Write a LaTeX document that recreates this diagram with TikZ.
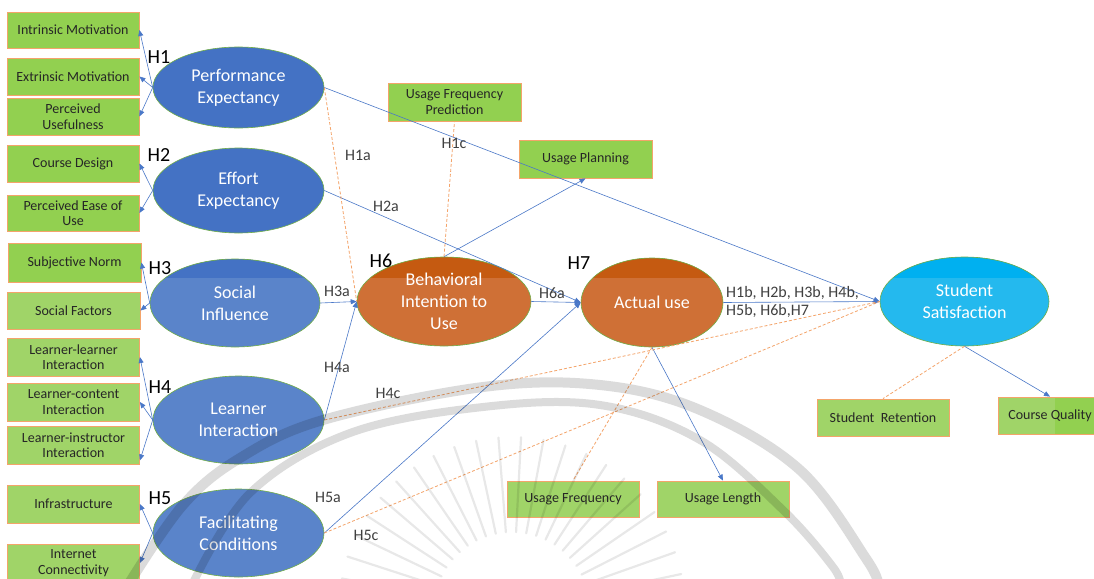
\documentclass[tikz,border=0pt]{standalone}
\usepackage{fontspec}
\setmainfont{Carlito}
\usetikzlibrary{shapes.geometric,arrows.meta}

\definecolor{blueA}{HTML}{4472C4}
\definecolor{blueB}{HTML}{5A84CA}
\definecolor{orangeA}{HTML}{C55A11}
\definecolor{orangeB}{HTML}{CF7036}
\definecolor{cyanA}{HTML}{00B0F0}
\definecolor{cyanB}{HTML}{24B9EE}
\definecolor{ellborder}{HTML}{70AD47}
\definecolor{boxdark}{HTML}{92D050}
\definecolor{boxlight}{HTML}{A0D468}
\definecolor{boxborder}{HTML}{F4A46A}
\definecolor{boxtext}{HTML}{262626}
\definecolor{linkblue}{HTML}{4A78C8}
\definecolor{dashorange}{HTML}{F4A46A}
\definecolor{hyptext}{HTML}{404040}

\begin{document}
\begin{tikzpicture}[x=1pt,y=-1pt,
  latent/.style={ellipse, draw=ellborder, line width=0.6pt, inner sep=0pt,
    text=white, align=center, font=\fontsize{18}{22}\selectfont},
  % darker cap across the top of an ellipse; #1 colour, #2 cap height
  topcap/.style 2 args={path picture={\fill[#1] (path picture bounding box.north west)
    rectangle ([yshift=-#2]path picture bounding box.north east);}},
  ind/.style={rectangle, draw=boxborder, line width=0.8pt, inner sep=0pt,
    text=boxtext, align=center, font=\fontsize{14}{15.5}\selectfont,
    minimum width=132pt, minimum height=37pt},
  link/.style={draw=linkblue, line width=0.6pt, -{Triangle[length=6pt,width=5pt]}},
  dashlink/.style={draw=dashorange, line width=0.8pt, dash pattern=on 3pt off 2pt},
  hyp/.style={text=hyptext, font=\fontsize{16}{18}\selectfont, inner sep=0pt},
  hbig/.style={text=black, font=\fontsize{20}{24}\selectfont, inner sep=0pt},
  wmband/.style={draw=black, draw opacity=0.14, line cap=round},
  wmray/.style={draw=black, draw opacity=0.09, line width=2.2pt, line cap=round}
]
\useasboundingbox (0,0) rectangle (1094,578);
\fill[white] (0,0) rectangle (1094,578);

% indicator boxes, left column
\node[ind, fill=boxdark]  (im)  at (73,30)    [minimum height=36pt] {Intrinsic Motivation};
\node[ind, fill=boxdark]  (em)  at (73,76.5)  {Extrinsic Motivation};
\node[ind, fill=boxdark]  (pu)  at (73,116.5) {Perceived\\Usefulness};
\node[ind, fill=boxdark]  (cd)  at (73,163.5) {Course Design};
\node[ind, fill=boxdark]  (peu) at (73,213)   [minimum height=36pt] {Perceived Ease of\\Use};
\node[ind, fill=boxdark]  (sn)  at (74.5,262.5) [minimum width=133pt, minimum height=39pt] {Subjective Norm};
\node[ind, fill=boxlight] (sf)  at (73.5,310.5) [minimum width=133pt] {Social Factors};
\node[ind, fill=boxlight] (ll)  at (73.5,357) [minimum height=38pt] {Learner-learner\\Interaction};
\node[ind, fill=boxlight] (lc)  at (73.5,402) [minimum height=38pt] {Learner-content\\Interaction};
\node[ind, fill=boxlight] (lin) at (73.5,445) [minimum height=38pt] {Learner-instructor\\Interaction};
\node[ind, fill=boxlight] (inf) at (73.5,504) [minimum height=38pt] {Infrastructure};
\node[ind, fill=boxlight] (ic)  at (73.5,563) [minimum height=38pt] {Internet\\Connectivity};

% outcome boxes
\node[ind, fill=boxdark]  (ufp) at (454.5,102) [minimum width=133pt, minimum height=38pt] {Usage Frequency\\Prediction};
\node[ind, fill=boxdark]  (up)  at (585.5,159) [minimum width=133pt, minimum height=38pt] {Usage Planning};
\node[ind, fill=boxlight] (uf)  at (573,499)   [minimum height=36pt] {Usage Frequency};
\node[ind, fill=boxlight] (ul)  at (723,499)   [minimum height=36pt] {Usage Length};
\node[ind, fill=boxlight] (sr)  at (883,417.5) {Student\ \ Retention};
\node[ind, fill=boxlight, minimum width=104pt,
  path picture={\fill[boxdark] ([xshift=-47pt]path picture bounding box.north east)
    rectangle (path picture bounding box.south east);}]
  (cq) at (1050,415.5) {Course Quality};

% latent constructs
\node[latent, fill=blueA, minimum width=171pt, minimum height=81pt] (pe) at (238.5,87.5) {Performance\\Expectancy};
\node[latent, fill=blueA, minimum width=171pt, minimum height=85pt] (ee) at (238.5,190.5) {Effort\\Expectancy};
\node[latent, fill=blueB, topcap={blueA}{19pt}, minimum width=170pt, minimum height=88pt] (si) at (235,303) {Social\\Influence};
\node[latent, fill=blueB, minimum width=171pt, minimum height=88pt] (li) at (238.5,420) {Learner\\Interaction};
\node[latent, fill=blueB, minimum width=171pt, minimum height=88pt] (fc) at (238.5,533) {Facilitating\\Conditions};
\node[latent, fill=orangeB, topcap={orangeA}{21pt}, minimum width=174pt, minimum height=89pt] (bi) at (444,301.5) {Behavioral\\Intention to\\Use};
\node[latent, fill=orangeB, topcap={orangeA}{20pt}, minimum width=142pt, minimum height=89pt] (au) at (652,302.5) {Actual use};
\node[latent, fill=cyanB, topcap={cyanA}{21pt}, minimum width=169pt, minimum height=89pt] (ss) at (964.5,301.5) {Student\\Satisfaction};

% measurement arrows
\draw[link] (pe.west) -- (im.east);
\draw[link] (pe.west) -- (em.east);
\draw[link] (pe.west) -- (pu.east);
\draw[link] (ee.west) -- (cd.east);
\draw[link] (ee.west) -- (peu.east);
\draw[link] (si.west) -- (sn.east);
\draw[link] (si.west) -- (sf.east);
\draw[link] (li.west) -- (ll.east);
\draw[link] (li.west) -- (lc.east);
\draw[link] (li.west) -- ([yshift=4pt]lin.south east);
\draw[link] (fc.west) -- (inf.east);
\draw[link] (fc.west) -- (ic.east);

% structural paths
\draw[link] (pe.east) -- (ss.west);
\draw[link] (ee.east) -- (au.west);
\draw[link] (si.east) -- (bi.west);
\draw[link] (li.east) -- (bi.west);
\draw[link] (fc.east) -- (au.west);
\draw[link] (bi.north) -- (up.south);
\draw[link] (bi.east) -- (au.west);
\draw[link] (au.east) -- (ss.west);
\draw[link] (au.south) -- (ul.north);
\draw[link] (ss.south) -- (cq.north);

% dashed relations
\draw[dashlink] (pe.east) -- (bi.west);
\draw[dashlink] (bi.north) -- (ufp.south);
\draw[dashlink] (li.east) -- (ss.west);
\draw[dashlink] (fc.east) -- (ss.west);
\draw[dashlink] (au.south) -- (uf.north);
\draw[dashlink] (ss.south) -- (sr.north);

% hypothesis labels
\node[hbig] (h1) at (159,57)  {H1};
\node[hbig] (h2) at (159,155) {H2};
\node[hbig] (h3) at (160,268) {H3};
\node[hbig] (h4) at (160,387) {H4};
\node[hbig] (h5) at (160,498) {H5};
\node[hbig] (h6) at (381,261) {H6};
\node[hbig] (h7) at (579,263) {H7};
\node[hyp] (h1a) at (358,155) {H1a};
\node[hyp] (h1c) at (454,143) {H1c};
\node[hyp] (h2a) at (386,206) {H2a};
\node[hyp] (h3a) at (337,291) {H3a};
\node[hyp] (h4a) at (337,367) {H4a};
\node[hyp] (h4c) at (388,393) {H4c};
\node[hyp] (h6a) at (552,293) {H6a};
\node[hyp] (h5a) at (328,497) {H5a};
\node[hyp] (h5c) at (366,535) {H5c};
\node[hyp, anchor=west, align=left] (h1b) at (726,302) {H1b, H2b, H3b, H4b,\\H5b, H6b,H7};

% faint seal in the background
\draw[wmband, line width=10pt] plot[smooth, tension=0.6] coordinates
  {(128,585) (183,505) (240,458) (323,420) (483,387) (600,385) (700,410) (800,470) (867,560) (878,585)};
\draw[wmband, line width=8pt] plot[smooth, tension=0.6] coordinates
  {(192,585) (250,493) (350,433) (483,407) (600,405) (700,440) (783,510) (833,567) (840,585)};
\foreach \a in {12,19.5,...,170}
  \draw[wmray] (512,610) ++(\a:78pt) -- ++(\a:95pt);
\end{tikzpicture}
\end{document}
